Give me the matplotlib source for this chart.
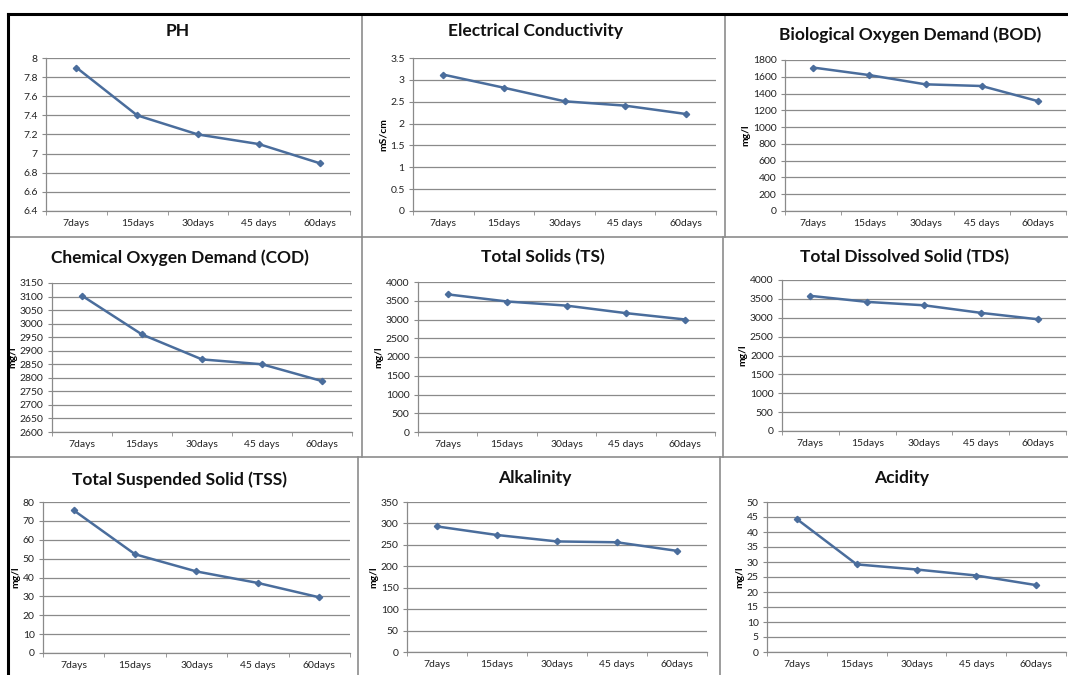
import numpy as np
import matplotlib
matplotlib.use("Agg")
import matplotlib.pyplot as plt
from matplotlib.lines import Line2D

# sampling days (category axis)
days = ["7days", "15days", "30days", "45 days", "60days"]

ph = [7.9, 7.4, 7.2, 7.1, 6.9]
ec = [3.12, 2.82, 2.51, 2.41, 2.22]
bod = [1710, 1620, 1510, 1490, 1310]
cod = [3103, 2960, 2868, 2850, 2788]
ts = [3670, 3480, 3370, 3170, 3000]
tds = [3580, 3420, 3330, 3130, 2960]
tss = [75.6, 52.3, 43.2, 37.1, 29.5]
alk = [293, 273, 258, 256, 236]
acid = [44.3, 29.2, 27.5, 25.5, 22.3]

W, H = 1068, 675
LINE = "#4a6d9c"
GRID = "#8a8a8a"
FONT = "Lato"

fig = plt.figure(figsize=(W / 100, H / 100), dpi=100)
fig.patch.set_facecolor("white")


def box(l, t, r, b):
    # pixel box -> figure fraction rect
    return [l / W, 1 - b / H, (r - l) / W, (b - t) / H]


def panel(rect, title, tx, ty, vals, ymin, ymax, step, ylabel=None, fmt=None):
    ax = fig.add_axes(box(*rect))
    x = np.arange(len(days))
    ax.plot(x, vals, color=LINE, lw=1.8, marker="D", ms=3.2, zorder=3)
    ax.set_xlim(-0.5, len(days) - 0.5)
    ax.set_ylim(ymin, ymax)
    yt = np.arange(ymin, ymax + step / 2, step)
    ax.set_yticks(yt)
    if fmt:
        ax.set_yticklabels([fmt(v) for v in yt])
    ax.set_xticks(x)
    ax.set_xticklabels(days)
    ax.set_xticks(np.arange(-0.5, len(days)), minor=True)
    ax.tick_params(axis="x", which="major", length=0, pad=6)
    ax.tick_params(axis="x", which="minor", length=3, color=GRID, direction="out")
    ax.tick_params(axis="y", length=3, color=GRID, pad=3)
    ax.tick_params(labelsize=7.5, labelcolor="#222222")
    for lab in ax.get_xticklabels() + ax.get_yticklabels():
        lab.set_family(FONT)
    ax.yaxis.grid(True, color=GRID, lw=0.9)
    ax.set_axisbelow(True)
    for s in ("top", "right"):
        ax.spines[s].set_visible(False)
    for s in ("left", "bottom"):
        ax.spines[s].set_color(GRID)
        ax.spines[s].set_linewidth(0.9)
    if ylabel:
        ax.set_ylabel(ylabel, fontsize=7.5, fontweight="bold", family=FONT, labelpad=2)
    fig.text(tx / W, 1 - ty / H, title, ha="center", va="center",
             fontsize=12.5, fontweight="bold", family=FONT, color="#111111")
    return ax


def dec(v):
    s = f"{v:.1f}"
    return s[:-2] if s.endswith(".0") else s


panel((46, 58, 350, 211), "PH", 178, 31, ph, 6.4, 8.0, 0.2, fmt=dec)
panel((413, 58, 716, 211), "Electrical Conductivity", 535, 31, ec, 0, 3.5, 0.5,
      ylabel="mS/cm", fmt=dec)
panel((785, 60, 1066, 211), "Biological Oxygen Demand (BOD)", 910, 35, bod, 0, 1800, 200,
      ylabel="mg/l", fmt=lambda v: f"{v:.0f}")
panel((52, 283, 352, 432), "Chemical Oxygen Demand (COD)", 180, 258, cod, 2600, 3150, 50,
      ylabel="mg/l", fmt=lambda v: f"{v:.0f}")
panel((418, 282, 715, 432), "Total Solids (TS)", 543, 257, ts, 0, 4000, 500,
      ylabel="mg/l", fmt=lambda v: f"{v:.0f}")
panel((782, 280, 1066, 431), "Total Dissolved Solid (TDS)", 905, 257, tds, 0, 4000, 500,
      ylabel="mg/l", fmt=lambda v: f"{v:.0f}")
panel((43, 502, 350, 653), "Total Suspended Solid (TSS)", 180, 480, tss, 0, 80, 10,
      ylabel="mg/l", fmt=lambda v: f"{v:.0f}")
panel((407, 502, 707, 652), "Alkalinity", 535, 478, alk, 0, 350, 50,
      ylabel="mg/l", fmt=lambda v: f"{v:.0f}")
panel((767, 502, 1066, 652), "Acidity", 902, 478, acid, 0, 50, 5,
      ylabel="mg/l", fmt=lambda v: f"{v:.0f}")


def seg(x0, y0, x1, y1, color="#8c8c8c", lw=1.2):
    fig.add_artist(Line2D([x0 / W, x1 / W], [1 - y0 / H, 1 - y1 / H],
                          color=color, lw=lw, transform=fig.transFigure))


# panel borders
seg(8, 237, W, 237)
seg(8, 457, W, 457)
seg(362, 14, 362, 237)
seg(725, 14, 725, 237)
seg(362, 237, 362, 457)
seg(723, 237, 723, 457)
seg(358, 457, 358, 675)
seg(720, 457, 720, 675)
# outer frame
seg(8, 14, W, 14, color="black", lw=2.2)
seg(8, 14, 8, H, color="black", lw=2.2)

fig.savefig("out.png", dpi=100)
